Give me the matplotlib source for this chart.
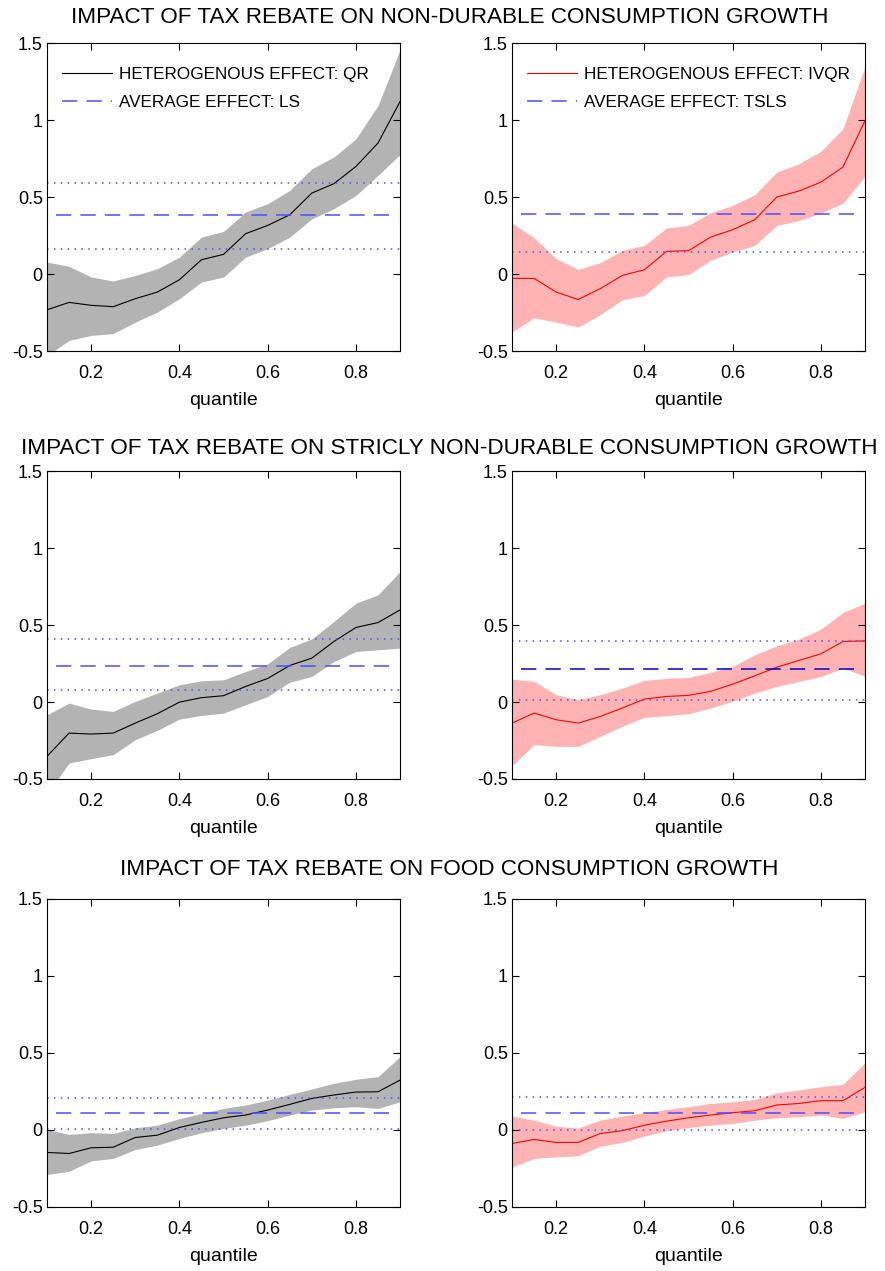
import numpy as np
import matplotlib
matplotlib.use("Agg")
import matplotlib.pyplot as plt

plt.rcParams['font.family'] = ['Liberation Sans', 'DejaVu Sans']

# quantile grid
quantiles = [0.10, 0.15, 0.20, 0.25, 0.30, 0.35, 0.40, 0.45, 0.50,
             0.55, 0.60, 0.65, 0.70, 0.75, 0.80, 0.85, 0.90]

row_titles = ["IMPACT OF TAX REBATE ON NON-DURABLE CONSUMPTION GROWTH",
              "IMPACT OF TAX REBATE ON STRICLY NON-DURABLE CONSUMPTION GROWTH",
              "IMPACT OF TAX REBATE ON FOOD CONSUMPTION GROWTH"]

# --- non-durable, QR ---
nd_qr = [-0.232, -0.184, -0.203, -0.212, -0.160, -0.117, -0.037, 0.093, 0.128,
         0.262, 0.316, 0.385, 0.526, 0.587, 0.699, 0.851, 1.121]
nd_qr_hi = [0.078, 0.050, -0.019, -0.045, -0.009, 0.035, 0.110, 0.240, 0.277,
            0.403, 0.457, 0.543, 0.684, 0.760, 0.879, 1.095, 1.457]
nd_qr_lo = [-0.53, -0.431, -0.398, -0.387, -0.312, -0.247, -0.160, -0.052, -0.019,
            0.110, 0.165, 0.240, 0.359, 0.424, 0.511, 0.641, 0.777]
nd_ls = 0.385
nd_ls_ci = [0.162, 0.593]

# --- non-durable, IVQR ---
nd_ivqr = [-0.028, -0.028, -0.117, -0.165, -0.095, -0.009, 0.028, 0.147, 0.152,
           0.240, 0.288, 0.353, 0.500, 0.539, 0.597, 0.695, 0.998]
nd_ivqr_hi = [0.331, 0.236, 0.100, 0.030, 0.074, 0.154, 0.186, 0.299, 0.316,
              0.398, 0.446, 0.515, 0.662, 0.716, 0.797, 0.944, 1.348]
nd_ivqr_lo = [-0.377, -0.284, -0.312, -0.344, -0.264, -0.167, -0.139, -0.019, -0.004,
              0.089, 0.143, 0.186, 0.316, 0.348, 0.396, 0.461, 0.634]
nd_tsls = 0.388
nd_tsls_ci = [0.145]

# --- strictly non-durable, QR ---
snd_qr = [-0.353, -0.202, -0.208, -0.202, -0.137, -0.076, -0.001, 0.028, 0.041,
          0.101, 0.153, 0.237, 0.285, 0.393, 0.484, 0.516, 0.598]
snd_qr_hi = [-0.083, -0.007, -0.046, -0.061, 0.004, 0.058, 0.112, 0.138, 0.144,
             0.198, 0.248, 0.354, 0.410, 0.523, 0.642, 0.696, 0.847]
snd_qr_lo = [-0.60, -0.396, -0.368, -0.342, -0.245, -0.184, -0.111, -0.087, -0.072,
             -0.018, 0.036, 0.129, 0.166, 0.263, 0.328, 0.339, 0.350]
snd_ls = 0.233
snd_ls_ci = [0.075, 0.410]

# --- strictly non-durable, IVQR ---
snd_ivqr = [-0.137, -0.072, -0.115, -0.137, -0.094, -0.039, 0.019, 0.036, 0.043,
            0.069, 0.116, 0.170, 0.226, 0.270, 0.313, 0.393, 0.397]
snd_ivqr_hi = [0.149, 0.134, 0.047, 0.015, 0.047, 0.090, 0.140, 0.153, 0.159,
               0.192, 0.231, 0.306, 0.365, 0.408, 0.473, 0.581, 0.642]
snd_ivqr_lo = [-0.414, -0.277, -0.288, -0.288, -0.223, -0.158, -0.100, -0.089, -0.076,
               -0.039, 0.004, 0.058, 0.101, 0.134, 0.166, 0.220, 0.166]
snd_tsls = 0.214
snd_tsls_ci = [0.015, 0.397]

# --- food, QR ---
fd_qr = [-0.146, -0.153, -0.116, -0.112, -0.049, -0.034, 0.016, 0.049, 0.079,
         0.097, 0.129, 0.166, 0.205, 0.227, 0.246, 0.248, 0.324]
fd_qr_hi = [0.003, -0.029, -0.018, -0.023, 0.014, 0.031, 0.073, 0.107, 0.140,
            0.162, 0.194, 0.231, 0.266, 0.303, 0.329, 0.346, 0.476]
fd_qr_lo = [-0.290, -0.268, -0.201, -0.185, -0.127, -0.099, -0.055, -0.018, 0.010,
            0.031, 0.060, 0.097, 0.129, 0.144, 0.151, 0.140, 0.183]
fd_ls = 0.107
fd_ls_ci = [0.008, 0.205]

# --- food, IVQR ---
fd_ivqr = [-0.088, -0.062, -0.081, -0.081, -0.023, -0.005, 0.031, 0.057, 0.079,
           0.097, 0.112, 0.125, 0.162, 0.172, 0.190, 0.190, 0.277]
fd_ivqr_hi = [0.090, 0.064, 0.025, 0.012, 0.064, 0.090, 0.112, 0.133, 0.151,
              0.172, 0.183, 0.198, 0.241, 0.259, 0.281, 0.296, 0.437]
fd_ivqr_lo = [-0.240, -0.185, -0.175, -0.168, -0.105, -0.081, -0.040, -0.005, 0.016,
              0.031, 0.042, 0.064, 0.079, 0.086, 0.097, 0.075, 0.118]
fd_tsls = 0.107
fd_tsls_ci = [0.000, 0.216]

avg_span = [0.12, 0.885]


def panel(ax, est, lo, hi, avg, ci, line_col, band_col, avg_col, labels=None):
    ax.fill_between(quantiles, lo, hi, color=band_col, lw=0)
    ax.plot(quantiles, est, color=line_col, lw=0.8, label=None if labels is None else labels[0])
    ax.plot(avg_span, [avg, avg], color=avg_col, lw=1.1, dashes=(10, 6),
            label=None if labels is None else labels[1])
    for c in ci:
        ax.plot([0.1, 0.9], [c, c], color="#4d4dff", lw=1.1, dashes=(1, 3.5))
    ax.set_xlim(0.1, 0.9)
    ax.set_ylim(-0.5, 1.5)
    ax.set_xticks([0.2, 0.4, 0.6, 0.8])
    ax.set_xticklabels(["0.2", "0.4", "0.6", "0.8"])
    ax.set_yticks([-0.5, 0, 0.5, 1, 1.5])
    ax.set_yticklabels(["-0.5", "0", "0.5", "1", "1.5"])
    ax.tick_params(direction="in", top=True, right=True, length=5, width=0.8,
                   labelsize=13, colors="black")
    ax.tick_params(axis="x", pad=10)
    ax.tick_params(axis="y", pad=3)
    for s in ax.spines.values():
        s.set_linewidth(0.8)
    ax.set_xlabel("quantile", fontsize=14, labelpad=7)
    if labels is not None:
        ax.legend(loc="upper left", bbox_to_anchor=(0.01, 0.962), frameon=False,
                  fontsize=12.3, handlelength=2.9, handletextpad=0.4,
                  labelspacing=0.8, borderaxespad=0.3)


def main():
    fig = plt.figure(figsize=(8.85, 12.71), dpi=100)

    lefts = [0.0531, 0.5785]
    bottoms = [0.7238, 0.3871, 0.0504]
    w, h = 0.399, 0.2423

    grey = "#b3b3b3"
    pink = "#ffb3b3"
    blue_light = "#4d4dff"

    rows = [
        (nd_qr, nd_qr_lo, nd_qr_hi, nd_ls, nd_ls_ci,
         nd_ivqr, nd_ivqr_lo, nd_ivqr_hi, nd_tsls, nd_tsls_ci, blue_light),
        (snd_qr, snd_qr_lo, snd_qr_hi, snd_ls, snd_ls_ci,
         snd_ivqr, snd_ivqr_lo, snd_ivqr_hi, snd_tsls, snd_tsls_ci, "#0000cc"),
        (fd_qr, fd_qr_lo, fd_qr_hi, fd_ls, fd_ls_ci,
         fd_ivqr, fd_ivqr_lo, fd_ivqr_hi, fd_tsls, fd_tsls_ci, blue_light),
    ]

    title_y = [0.986, 0.6475, 0.3155]

    for i, r in enumerate(rows):
        ax1 = fig.add_axes([lefts[0], bottoms[i], w, h])
        ax2 = fig.add_axes([lefts[1], bottoms[i], w, h])
        lab1 = ["HETEROGENOUS EFFECT: QR", "AVERAGE EFFECT: LS"] if i == 0 else None
        lab2 = ["HETEROGENOUS EFFECT: IVQR", "AVERAGE EFFECT: TSLS"] if i == 0 else None
        panel(ax1, r[0], r[1], r[2], r[3], r[4], "black", grey, blue_light, lab1)
        panel(ax2, r[5], r[6], r[7], r[8], r[9], "red", pink, r[10], lab2)
        fig.text(0.508, title_y[i], row_titles[i], ha="center", va="center", fontsize=16.2)

    plt.savefig("out.png", dpi=100)


if __name__ == "__main__":
    main()
